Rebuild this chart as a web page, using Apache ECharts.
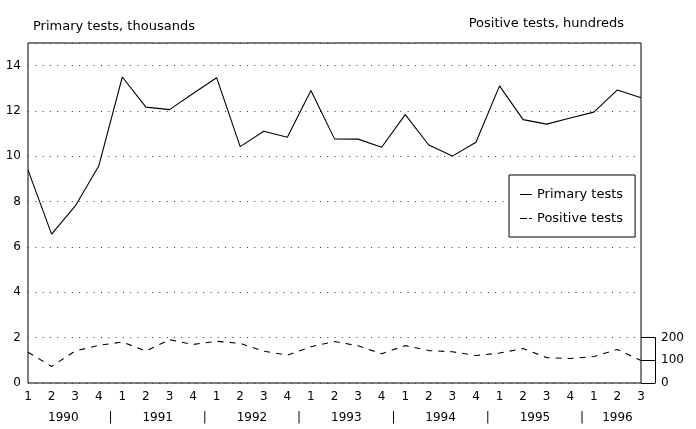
<!DOCTYPE html>
<html>
<head>
<meta charset="utf-8">
<script src="https://cdn.jsdelivr.net/npm/echarts@6/dist/echarts.min.js"></script>
<style>
html,body{margin:0;padding:0;background:#fff;}
#c{width:696px;height:429px;}
</style>
</head>
<body>
<div id="c"></div>
<script>
// ---- data ----
const quarterLabels = ['1','2','3','4','1','2','3','4','1','2','3','4','1','2','3','4','1','2','3','4','1','2','3','4','1','2','3'];
const quarterYears  = ['1990','1990','1990','1990','1991','1991','1991','1991','1992','1992','1992','1992','1993','1993','1993','1993','1994','1994','1994','1994','1995','1995','1995','1995','1996','1996','1996'];
const primaryTests  = [9.4,6.57,7.8,9.57,13.5,12.17,12.06,12.77,13.47,10.43,11.11,10.84,12.9,10.77,10.76,10.4,11.84,10.5,10.01,10.62,13.11,11.62,11.42,11.69,11.95,12.93,12.58]; // thousands
const positiveTests = [136,73,141,166,181,141,191,170,184,175,140,123,160,183,164,129,165,143,138,121,132,152,112,108,117,148,99]; // count (right axis 0-200)
const leftTicksMax = 14;
const rightTicks = [0,100,200];

// year label positions derived from categories
const yearText = {};
const yearList = [...new Set(quarterYears)];
yearList.forEach(y => {
  const idx = quarterYears.map((v,i)=>v===y?i:-1).filter(i=>i>=0);
  const first = idx[0], last = idx[idx.length-1];
  yearText[((first+last)/2).toFixed(1)] = y;
  if (last < quarterYears.length-1) yearText[(last+0.5).toFixed(1)] = '|';
});

const FONT = 'DejaVu Sans';
const chart = echarts.init(document.getElementById('c'));
const gridLeft = 28, gridRight = 55, gridTop = 43, gridBottom = 46;
const leftMax = 15;
const plotH = 429 - gridTop - gridBottom;
const rightTopPx = 429 - gridBottom - plotH * 2 / leftMax; // left value 2 == 200

chart.setOption({
  animation: false,
  backgroundColor: '#fff',
  textStyle: {fontFamily: FONT, color: '#000'},
  title: [
    {text: 'Primary tests, thousands', left: 28, top: 15, textStyle: {fontFamily: FONT, fontSize: 13, fontWeight: 'normal', color: '#000'}},
    {text: 'Positive tests, hundreds', right: 67, top: 12, textStyle: {fontFamily: FONT, fontSize: 13, fontWeight: 'normal', color: '#000'}}
  ],
  legend: {
    orient: 'vertical',
    left: 509, top: 175,
    padding: [13, 12, 12, 11],
    itemGap: 11,
    itemWidth: 12, itemHeight: 14,
    symbolKeepAspect: true,
    borderColor: '#000', borderWidth: 1,
    backgroundColor: '#fff',
    textStyle: {fontFamily: FONT, fontSize: 13, color: '#000'},
    data: [
      {name: 'Primary tests', icon: 'path://M0,0h12v1h-12z', itemStyle: {color: '#000'}},
      {name: 'Positive tests', icon: 'path://M0,0h7v1h-7z M9,0h3v1h-3z', itemStyle: {color: '#000'}}
    ]
  },
  grid: [
    {left: gridLeft, right: gridRight, top: gridTop, bottom: gridBottom, show: true, borderColor: '#000', borderWidth: 1, backgroundColor: 'transparent'},
    {left: gridLeft, right: gridRight, top: rightTopPx, bottom: gridBottom, show: false}
  ],
  xAxis: [
    {type: 'category', gridIndex: 0, data: quarterLabels, boundaryGap: false,
     axisLine: {show: false}, axisTick: {show: false},
     axisLabel: {interval: 0, margin: 8, fontFamily: FONT, fontSize: 12, color: '#000'}},
    {type: 'category', gridIndex: 1, data: quarterLabels, boundaryGap: false, show: false},
    {type: 'value', gridIndex: 0, min: 0, max: quarterLabels.length - 1, interval: 0.5, position: 'bottom',
     axisLine: {show: false}, axisTick: {show: false}, splitLine: {show: false},
     axisLabel: {margin: 29, fontFamily: FONT, fontSize: 12, color: '#000', showMinLabel: true, showMaxLabel: true,
       formatter: v => yearText[Number(v).toFixed(1)] || ''}}
  ],
  yAxis: [
    {type: 'value', gridIndex: 0, min: 0, max: leftMax, interval: 2,
     axisLine: {show: false}, axisTick: {show: false},
     axisLabel: {margin: 7, fontFamily: FONT, fontSize: 12, color: '#000',
       formatter: v => (v <= leftTicksMax && v % 2 === 0) ? String(v) : ''},
     splitLine: {show: true, lineStyle: {color: '#333', width: 1, type: [1, 6.3]}}},
    {type: 'value', gridIndex: 1, min: rightTicks[0], max: rightTicks[rightTicks.length-1], interval: 100,
     position: 'right', offset: 14,
     axisLine: {show: true, lineStyle: {color: '#000', width: 1}},
     axisTick: {show: true, inside: true, length: 14, lineStyle: {color: '#000'}},
     axisLabel: {margin: 6, fontFamily: FONT, fontSize: 12, color: '#000'},
     splitLine: {show: false}}
  ],
  series: [
    {name: 'Primary tests', type: 'line', xAxisIndex: 0, yAxisIndex: 0, data: primaryTests,
     symbol: 'none', lineStyle: {color: '#000', width: 1.1}, itemStyle: {color: '#000'}},
    {name: 'Positive tests', type: 'line', xAxisIndex: 1, yAxisIndex: 1, data: positiveTests,
     symbol: 'none', lineStyle: {color: '#000', width: 1.1, type: [6, 6]}, itemStyle: {color: '#000'}}
  ]
});
</script>
</body>
</html>
